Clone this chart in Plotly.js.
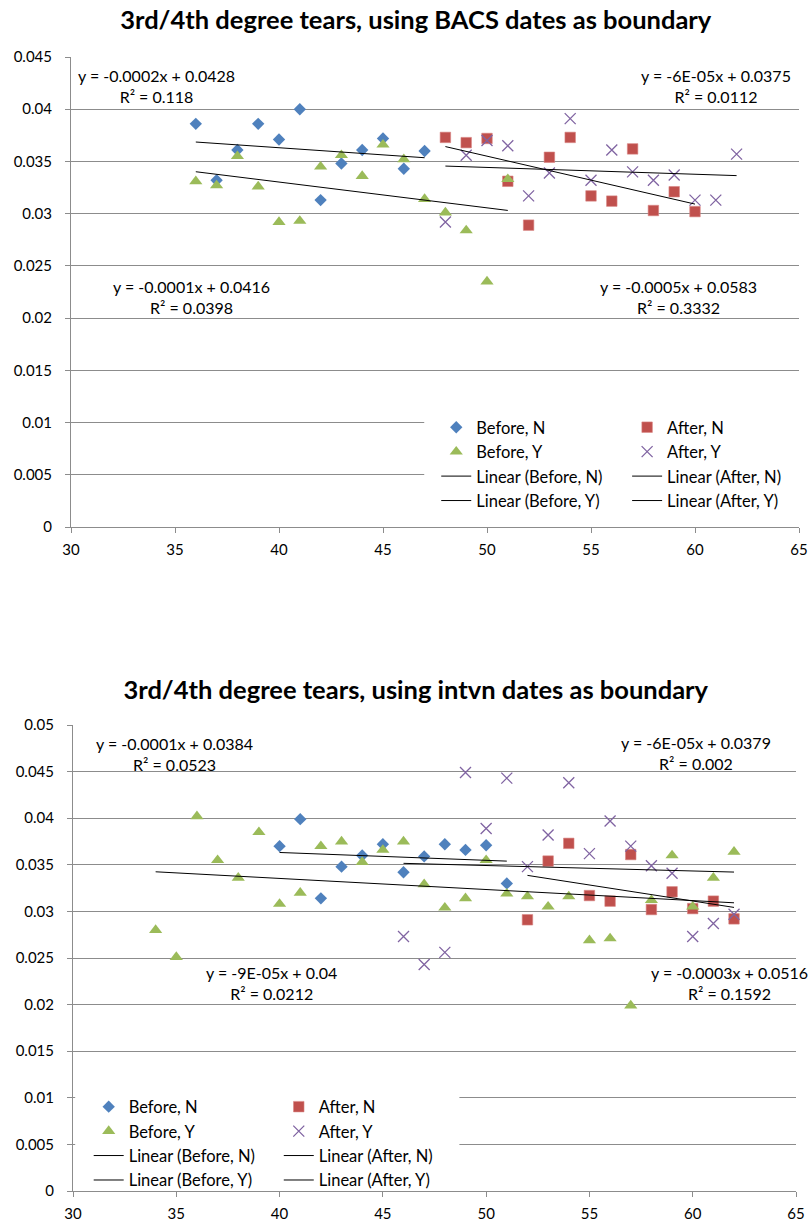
<!DOCTYPE html>
<html>
<head>
<meta charset="utf-8">
<script src="https://cdn.plot.ly/plotly-3.0.1.min.js"></script>
<style>
  html, body { margin: 0; padding: 0; background: #fff; }
  #top, #bottom { width: 812px; height: 613px; }
</style>
</head>
<body>
<div id="top"></div>
<div id="bottom"></div>
<script>
// ---------- Data: chart 1 (BACS dates as boundary) ----------
const bacsBeforeN_x = [36, 37, 38, 39, 40, 41, 42, 43, 44, 45, 46, 47];
const bacsBeforeN_y = [0.0386, 0.0332, 0.0361, 0.0386, 0.0371, 0.0400, 0.0313, 0.0348, 0.0361, 0.0372, 0.0343, 0.0360];

const bacsBeforeY_x = [36, 37, 38, 39, 40, 41, 42, 43, 44, 45, 46, 47, 48, 49, 50, 51];
const bacsBeforeY_y = [0.0331, 0.0327, 0.0355, 0.0326, 0.0292, 0.0293, 0.0345, 0.0356, 0.0336, 0.0366, 0.0352, 0.0314, 0.0301, 0.0284, 0.0235, 0.0333];

const bacsAfterN_x = [48, 49, 50, 51, 52, 53, 54, 55, 56, 57, 58, 59, 60];
const bacsAfterN_y = [0.0373, 0.0368, 0.0372, 0.0331, 0.0289, 0.0354, 0.0373, 0.0317, 0.0312, 0.0362, 0.0303, 0.0321, 0.0302];

const bacsAfterY_x = [48, 49, 50, 51, 52, 53, 54, 55, 56, 57, 58, 59, 60, 61, 62];
const bacsAfterY_y = [0.0292, 0.0356, 0.0370, 0.0365, 0.0317, 0.0339, 0.0391, 0.0332, 0.0361, 0.0340, 0.0332, 0.0337, 0.0313, 0.0313, 0.0357];

const bacsEquations = [
  "y = -0.0002x + 0.0428<br>R² = 0.118",
  "y = -6E-05x + 0.0375<br>R² = 0.0112",
  "y = -0.0001x + 0.0416<br>R² = 0.0398",
  "y = -0.0005x + 0.0583<br>R² = 0.3332"
];

// ---------- Data: chart 2 (intvn dates as boundary) ----------
const intvnBeforeN_x = [40, 41, 42, 43, 44, 45, 46, 47, 48, 49, 50, 51];
const intvnBeforeN_y = [0.0370, 0.0399, 0.0314, 0.0348, 0.0360, 0.0372, 0.0342, 0.0359, 0.0372, 0.0366, 0.0371, 0.0330];

const intvnBeforeY_x = [34, 35, 36, 37, 38, 39, 40, 41, 42, 43, 44, 45, 46, 47, 48, 49, 50, 51, 52, 53, 54, 55, 56, 57, 58, 59, 60, 61, 62];
const intvnBeforeY_y = [0.0280, 0.0251, 0.0402, 0.0355, 0.0336, 0.0385, 0.0308, 0.0320, 0.0370, 0.0375, 0.0353, 0.0366, 0.0375, 0.0329, 0.0304, 0.0314, 0.0355, 0.0319, 0.0316, 0.0305, 0.0316, 0.0269, 0.0271, 0.0199, 0.0312, 0.0360, 0.0305, 0.0336, 0.0364];

const intvnAfterN_x = [52, 53, 54, 55, 56, 57, 58, 59, 60, 61, 62];
const intvnAfterN_y = [0.0291, 0.0354, 0.0373, 0.0317, 0.0311, 0.0361, 0.0302, 0.0321, 0.0303, 0.0311, 0.0292];

const intvnAfterY_x = [46, 47, 48, 49, 50, 51, 52, 53, 54, 55, 56, 57, 58, 59, 60, 61, 62];
const intvnAfterY_y = [0.0273, 0.0243, 0.0256, 0.0449, 0.0389, 0.0443, 0.0348, 0.0382, 0.0438, 0.0362, 0.0397, 0.0370, 0.0349, 0.0341, 0.0273, 0.0287, 0.0297];

const intvnEquations = [
  "y = -0.0001x + 0.0384<br>R² = 0.0523",
  "y = -6E-05x + 0.0379<br>R² = 0.002",
  "y = -9E-05x + 0.04<br>R² = 0.0212",
  "y = -0.0003x + 0.0516<br>R² = 0.1592"
];

const xTicks = [30, 35, 40, 45, 50, 55, 60, 65];

// ---------- Helpers ----------
function linFit(xs, ys) {
  const n = xs.length;
  const mx = xs.reduce((a, b) => a + b, 0) / n;
  const my = ys.reduce((a, b) => a + b, 0) / n;
  let sxy = 0, sxx = 0;
  for (let i = 0; i < n; i++) { sxy += (xs[i] - mx) * (ys[i] - my); sxx += (xs[i] - mx) ** 2; }
  const b = sxy / sxx, a = my - b * mx;
  const x0 = Math.min(...xs), x1 = Math.max(...xs);
  return { x: [x0, x1], y: [a + b * x0, a + b * x1] };
}

const COL = { bn: '#4F81BD', an: '#C0504D', by: '#9BBB59', ay: '#8064A2' };
const GRID = '#8c8c8c';
const FONT = 'Lato, "Open Sans", sans-serif';

function buildTraces(d) {
  const fBN = linFit(d.bnx, d.bny), fAN = linFit(d.anx, d.any);
  const fBY = linFit(d.byx, d.byy), fAY = linFit(d.ayx, d.ayy);
  const line = { color: '#000', width: 1 };
  return [
    { x: d.bnx, y: d.bny, mode: 'markers', name: 'Before, N', legend: 'legend',
      marker: { symbol: 'diamond', size: 9.5, color: COL.bn } },
    { x: d.anx, y: d.any, mode: 'markers', name: 'After, N', legend: 'legend2',
      marker: { symbol: 'square', size: 10.5, color: COL.an, line: { color: '#d98583', width: 0.6 } } },
    { x: d.byx, y: d.byy, mode: 'markers', name: 'Before, Y', legend: 'legend',
      marker: { symbol: 'triangle-up', size: 11.5, color: COL.by } },
    { x: d.ayx, y: d.ayy, mode: 'markers', name: 'After, Y', legend: 'legend2',
      marker: { symbol: 'x-thin-open', size: 11, color: COL.ay, line: { color: COL.ay, width: 1.3 } } },
    { x: fBN.x, y: fBN.y, mode: 'lines', name: 'Linear (Before, N)', legend: 'legend', line: line },
    { x: fAN.x, y: fAN.y, mode: 'lines', name: 'Linear (After, N)', legend: 'legend2', line: line },
    { x: fBY.x, y: fBY.y, mode: 'lines', name: 'Linear (Before, Y)', legend: 'legend', line: line },
    { x: fAY.x, y: fAY.y, mode: 'lines', name: 'Linear (After, Y)', legend: 'legend2', line: line }
  ];
}

function axisX() {
  return { range: [30, 65], tickvals: xTicks, showgrid: false, zeroline: false,
    showline: true, linecolor: GRID, linewidth: 1, ticks: 'outside', ticklen: 5, tickcolor: GRID,
    tickfont: { size: 15, family: FONT, color: '#000' }, ticklabelstandoff: 4, fixedrange: true };
}
function axisY(maxV) {
  return { range: [0, maxV], dtick: 0.005, tick0: 0, showgrid: true, gridcolor: GRID, gridwidth: 1,
    zeroline: false, showline: true, linecolor: GRID, linewidth: 1, ticks: 'outside', ticklen: 5,
    tickcolor: GRID, tickfont: { size: 15, family: FONT, color: '#000' }, ticklabelstandoff: 10, fixedrange: true };
}
function legendObj(x, y) {
  return { x: x, y: y, xanchor: 'left', yanchor: 'top', orientation: 'v', bgcolor: 'rgba(0,0,0,0)',
    font: { size: 16.5, family: FONT, color: '#000' }, tracegroupgap: 0, borderwidth: 0 };
}
function ann(text, x, y) {
  return { text: text, x: x, y: y, xref: 'paper', yref: 'paper', xanchor: 'center', yanchor: 'middle',
    align: 'center', showarrow: false, font: { size: 16, family: FONT, color: '#000' } };
}

// ---------- Chart 1 ----------
const layoutTop = {
  width: 812, height: 613,
  margin: { l: 70.5, r: 13, t: 57, b: 86 },
  paper_bgcolor: '#fff', plot_bgcolor: '#fff',
  font: { family: FONT, color: '#000' },
  title: { text: '<b>3rd/4th degree tears, using BACS dates as boundary</b>',
    font: { size: 25.5, family: FONT, color: '#000' },
    x: 0.512, xref: 'container', xanchor: 'center', y: 1 - 20 / 613, yref: 'container', yanchor: 'middle' },
  xaxis: axisX(), yaxis: axisY(0.045),
  showlegend: true,
  legend: legendObj(0.5017, 0.249),
  legend2: legendObj(0.7639, 0.249),
  shapes: [{ type: 'rect', xref: 'paper', yref: 'paper', x0: 0.4852, x1: 1, y0: 0.006, y1: 0.245,
    fillcolor: '#fff', line: { width: 0 }, layer: 'above' }],
  annotations: [
    ann(bacsEquations[0], 0.1179, 0.9374),
    ann(bacsEquations[1], 0.8854, 0.9374),
    ann(bacsEquations[2], 0.1654, 0.4894),
    ann(bacsEquations[3], 0.8346, 0.4894)
  ]
};
Plotly.newPlot('top', buildTraces({
  bnx: bacsBeforeN_x, bny: bacsBeforeN_y, anx: bacsAfterN_x, any: bacsAfterN_y,
  byx: bacsBeforeY_x, byy: bacsBeforeY_y, ayx: bacsAfterY_x, ayy: bacsAfterY_y
}), layoutTop, { staticPlot: true, displayModeBar: false });

// ---------- Chart 2 ----------
const layoutBottom = {
  width: 812, height: 613,
  margin: { l: 73.3, r: 16, t: 112.3, b: 35 },
  paper_bgcolor: '#fff', plot_bgcolor: '#fff',
  font: { family: FONT, color: '#000' },
  title: { text: '<b>3rd/4th degree tears, using intvn dates as boundary</b>',
    font: { size: 25.5, family: FONT, color: '#000' },
    x: 0.512, xref: 'container', xanchor: 'center', y: 1 - 77 / 613, yref: 'container', yanchor: 'middle' },
  xaxis: axisX(), yaxis: axisY(0.05),
  showlegend: true,
  legend: legendObj(0.0217, 0.218),
  legend2: legendObj(0.2846, 0.218),
  shapes: [{ type: 'rect', xref: 'paper', yref: 'paper', x0: 0.003, x1: 0.5344, y0: 0.006, y1: 0.228,
    fillcolor: '#fff', line: { width: 0 }, layer: 'above' }],
  annotations: [
    ann(intvnEquations[0], 0.1407, 0.9388),
    ann(intvnEquations[1], 0.8623, 0.9407),
    ann(intvnEquations[2], 0.2749, 0.4466),
    ann(intvnEquations[3], 0.9087, 0.4466)
  ]
};
Plotly.newPlot('bottom', buildTraces({
  bnx: intvnBeforeN_x, bny: intvnBeforeN_y, anx: intvnAfterN_x, any: intvnAfterN_y,
  byx: intvnBeforeY_x, byy: intvnBeforeY_y, ayx: intvnAfterY_x, ayy: intvnAfterY_y
}), layoutBottom, { staticPlot: true, displayModeBar: false });
</script>
</body>
</html>
